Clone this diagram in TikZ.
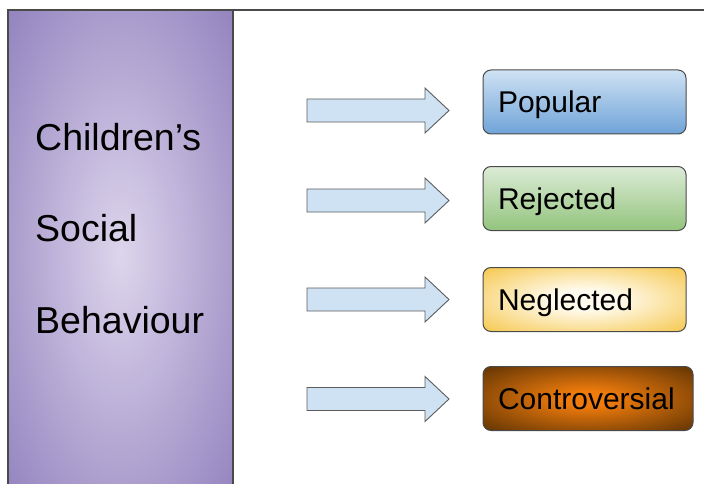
\documentclass[tikz,border=0pt]{standalone}
\usepackage{fontspec}
\setmainfont{Liberation Sans}
\usetikzlibrary{calc}

\definecolor{purpleIn}{HTML}{DDD5EC}
\definecolor{purpleOut}{HTML}{9282BE}
\definecolor{blueTop}{HTML}{CFE2F3}
\definecolor{blueBot}{HTML}{6FA3D8}
\definecolor{greenTop}{HTML}{DCEBD6}
\definecolor{greenBot}{HTML}{93C47D}
\definecolor{yellowIn}{HTML}{FFFAEC}
\definecolor{yellowOut}{HTML}{F6CA56}
\definecolor{orangeIn}{HTML}{EE7B0C}
\definecolor{orangeOut}{HTML}{5E3304}
\definecolor{arrowFill}{HTML}{CFE2F3}
\definecolor{edgeGrey}{HTML}{4A4A4A}

\pgfdeclareradialshading{purpleglow}{\pgfpoint{0bp}{0bp}}{%
  color(0bp)=(purpleIn); color(36bp)=(purpleOut); color(50bp)=(purpleOut)}
\pgfdeclareradialshading{yellowglow}{\pgfpoint{0bp}{0bp}}{%
  color(0bp)=(yellowIn); color(8bp)=(yellowIn); color(34bp)=(yellowOut); color(50bp)=(yellowOut)}
\pgfdeclareradialshading{orangeglow}{\pgfpoint{0bp}{0bp}}{%
  color(0bp)=(orangeIn); color(6bp)=(orangeIn); color(36bp)=(orangeOut); color(50bp)=(orangeOut)}

\tikzset{
  sidetext/.style={anchor=base west, inner sep=0pt, font=\fontsize{37.5}{42}\selectfont},
  category/.style={draw=edgeGrey, line width=1pt, rounded corners=8pt,
    minimum height=64pt, inner xsep=15pt, align=left,
    text height=21.5pt, text depth=0pt,
    font=\fontsize{30}{34}\selectfont},
  blockarrow/.style={draw=edgeGrey!90, line width=0.9pt, fill=arrowFill, line join=miter},
}

\begin{document}
\begin{tikzpicture}[x=1pt, y=-1pt]
  \useasboundingbox (0,0) rectangle (704,484);
  \clip (0,0) rectangle (704,484);

  % side panel
  \path[shading=purpleglow, draw=edgeGrey, line width=1.2pt]
    (8,10) rectangle (233,500);
  \draw[edgeGrey, line width=1.2pt] (8,10) -- (704,10);

  \node[sidetext] (children) at (35,150) {Children’s};
  \node[sidetext] (social)   at (35,241) {Social};
  \node[sidetext] (behav)    at (35,333) {Behaviour};

  % block arrows
  \foreach \yc/\nm in {110.5/a1, 200.5/a2, 299.5/a3, 399/a4} {
    \coordinate (\nm) at (307,\yc);
    \draw[blockarrow]
      ($(\nm)+(0,-11.5)$) -- ++(118,0) -- ++(0,-11) -- ($(\nm)+(142,0)$)
      -- ($(\nm)+(118,22.5)$) -- ++(0,-11) -- ($(\nm)+(0,11.5)$) -- cycle;
  }

  % categories
  \node[category, top color=blueTop, bottom color=blueBot,
        text width=173pt] (popular) at (584.5,102) {Popular};
  \node[category, top color=greenTop, bottom color=greenBot,
        text width=173pt] (rejected) at (584.5,198.5) {Rejected};
  \node[category, shading=yellowglow,
        text width=173pt] (neglected) at (584.5,299.5) {Neglected};
  \node[category, shading=orangeglow,
        text width=180pt] (controversial) at (588,398.5) {Controversial};
\end{tikzpicture}
\end{document}
